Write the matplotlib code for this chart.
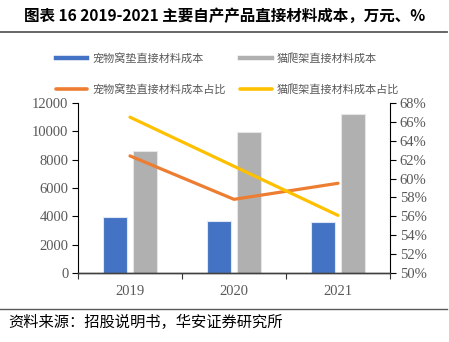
import numpy as np
import matplotlib
matplotlib.use("Agg")
import matplotlib.pyplot as plt
from matplotlib.lines import Line2D

plt.rcParams['font.family'] = ['Noto Sans CJK SC', 'DejaVu Sans']

# data
years = ['2019', '2020', '2021']
pad_cost = [3950, 3680, 3570]        # 宠物窝垫直接材料成本
tree_cost = [8600, 9950, 11200]      # 猫爬架直接材料成本
pad_ratio = [62.4, 57.8, 59.5]       # 宠物窝垫直接材料成本占比 (%)
tree_ratio = [66.5, 61.3, 56.1]      # 猫爬架直接材料成本占比 (%)

blue = '#4472C4'
gray = '#B0B0B0'
orange = '#ED7D31'
yellow = '#FFC000'
txt = '#595959'
serif = ['Liberation Serif', 'DejaVu Serif']

fig = plt.figure(figsize=(4.49, 3.42), dpi=100)
ax1 = fig.add_axes([0.1737, 0.2018, 0.6949, 0.4970])
ax2 = ax1.twinx()

x = np.arange(len(years))
w = 0.225
ax1.bar(x - 0.145, pad_cost, w, color=blue, edgecolor='#dfe6f5', linewidth=0.8, zorder=2)
ax1.bar(x + 0.145, tree_cost, w, color=gray, edgecolor='#e6e6e6', linewidth=0.8, zorder=2)
ax2.plot(x, pad_ratio, color=orange, lw=2.3, solid_capstyle='round')
ax2.plot(x, tree_ratio, color=yellow, lw=2.3, solid_capstyle='round')

ax1.set_xlim(-0.5, 2.5)
ax1.set_ylim(0, 12000)
ax1.set_yticks(np.arange(0, 12001, 2000))
ax2.set_ylim(50, 68)
ax2.set_yticks(np.arange(50, 68.1, 2))
ax2.set_yticklabels([f'{v}%' for v in range(50, 69, 2)])

ax1.set_xticks(x)
ax1.set_xticklabels(years)
ax1.set_xticks([-0.5, 0.5, 1.5, 2.5], minor=True)
ax1.tick_params(axis='x', which='major', length=0, pad=9)
ax1.tick_params(axis='x', which='minor', length=4, width=0.8, direction='out', color='#333333')

for ax in (ax1, ax2):
    ax.spines['top'].set_visible(False)
    ax.spines['bottom'].set_color('#404040')
    ax.spines['bottom'].set_linewidth(1.0)
    ax.spines['left'].set_color('black')
    ax.spines['right'].set_color('black')
ax1.spines['right'].set_visible(False)
ax2.spines['left'].set_visible(False)
ax1.tick_params(axis='y', length=4, width=0.8, direction='out', pad=3)
ax2.tick_params(axis='y', length=4, width=0.8, direction='out', pad=3)

for lab in ax1.get_xticklabels() + ax1.get_yticklabels() + ax2.get_yticklabels():
    lab.set_family(serif)
    lab.set_fontsize(10.5)
    lab.set_color(txt)

handles = [Line2D([], [], color=blue, lw=3.2),
           Line2D([], [], color=orange, lw=2.6, solid_capstyle='round'),
           Line2D([], [], color=gray, lw=3.2),
           Line2D([], [], color=yellow, lw=2.6, solid_capstyle='round')]
labels = ['宠物窝垫直接材料成本', '宠物窝垫直接材料成本占比',
          '猫爬架直接材料成本', '猫爬架直接材料成本占比']
leg = fig.legend(handles, labels, ncol=2, loc='center', bbox_to_anchor=(0.507, 0.784),
                 frameon=False, fontsize=8, handlelength=2.8, handletextpad=0.45,
                 columnspacing=1.3, labelspacing=1.75)
for t in leg.get_texts():
    t.set_color(txt)

fig.text(0.5, 0.953, '图表 16 2019-2021 主要自产产品直接材料成本，万元、%',
         fontsize=11.2, fontweight='bold', va='center', ha='center', color='black')
fig.add_artist(Line2D([0, 0.996], [1 - 31.7 / 342] * 2, color='#595959', lw=1.3))
fig.add_artist(Line2D([0, 0.996], [1 - 309 / 342] * 2, color='#595959', lw=1.0))
fig.text(0.018, 1 - 322 / 342, '资料来源：招股说明书，华安证券研究所',
         fontsize=11, va='center', ha='left', color='black')

fig.savefig('out.png', dpi=100)
